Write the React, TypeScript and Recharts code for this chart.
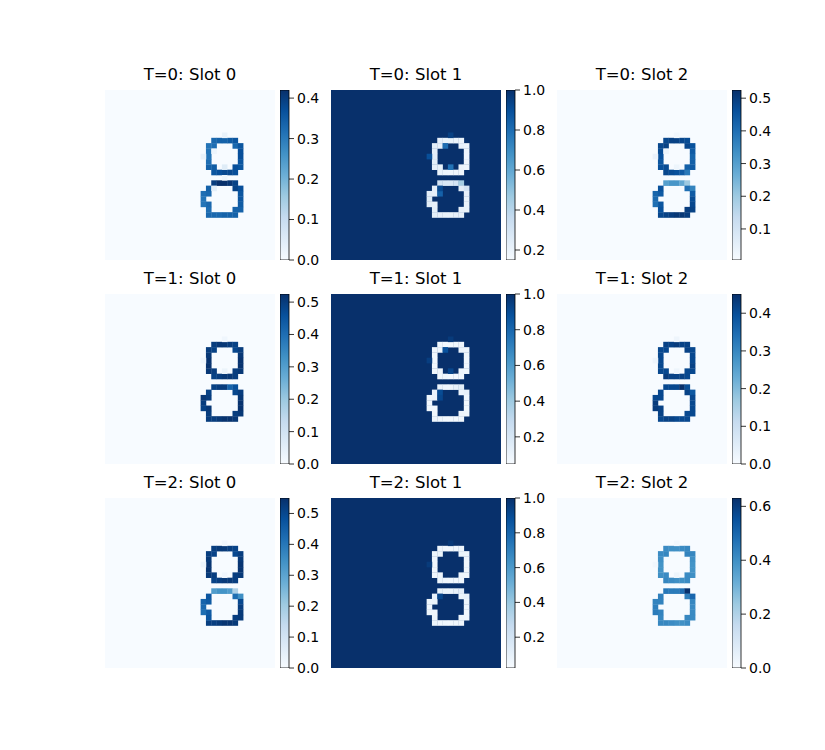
import React from "react";
import { ScatterChart, Scatter, XAxis, YAxis, ReferenceArea, BarChart, Bar } from "recharts";

const FONT = "'DejaVu Sans', sans-serif";
const BLUES = ["#f7fbff", "#deebf7", "#c6dbef", "#9ecae1", "#6baed6", "#4292c6", "#2171b5", "#08519c", "#08306b"];

const GRID_N = 32;
const PANEL = 170;
const CELL = PANEL / GRID_N;
const COL_X = [105, 331, 557];
const ROW_Y = [90, 294, 498];

// grid cells [row, col] of the two outlines
const UPPER_RING: [number, number][] = [
  [9, 20], [9, 21], [9, 22], [9, 23], [9, 24],
  [10, 24], [10, 25], [11, 25], [12, 25], [13, 25], [14, 25], [14, 24],
  [15, 24], [15, 23], [15, 22], [15, 21], [15, 20],
  [14, 20], [14, 19], [13, 19], [12, 19], [11, 19], [10, 19], [10, 20],
];
const LOWER_RING: [number, number][] = [
  [17, 20], [17, 21], [17, 22], [17, 23], [17, 24],
  [18, 24], [18, 25], [19, 25], [20, 25], [21, 25], [22, 25], [22, 24],
  [23, 24], [23, 23], [23, 22], [23, 21], [23, 20], [23, 19],
  [22, 19], [21, 19], [21, 18], [20, 18], [19, 18], [19, 19], [18, 19],
];

const TITLES = [
  "T=0: Slot 0", "T=0: Slot 1", "T=0: Slot 2",
  "T=1: Slot 0", "T=1: Slot 1", "T=1: Slot 2",
  "T=2: Slot 0", "T=2: Slot 1", "T=2: Slot 2",
];
const VMIN = [0, 0.15, 0.005, 0, 0.048, 0, 0, 0.023, 0];
const VMAX = [0.42, 1.0, 0.525, 0.525, 1.0, 0.451, 0.55, 1.0, 0.631];
const BG = [0, 1.0, 0.005, 0, 1.0, 0, 0, 1.0, 0];
const TICKS = [
  [0, 0.1, 0.2, 0.3, 0.4], [0.2, 0.4, 0.6, 0.8, 1.0], [0.1, 0.2, 0.3, 0.4, 0.5],
  [0, 0.1, 0.2, 0.3, 0.4, 0.5], [0.2, 0.4, 0.6, 0.8, 1.0], [0, 0.1, 0.2, 0.3, 0.4],
  [0, 0.1, 0.2, 0.3, 0.4, 0.5], [0.2, 0.4, 0.6, 0.8, 1.0], [0, 0.2, 0.4, 0.6],
];

const t0s0Upper = [0.33, 0.34, 0.34, 0.35, 0.36, 0.33, 0.36, 0.37, 0.37, 0.36, 0.36, 0.37, 0.37, 0.38, 0.38, 0.37, 0.36, 0.35, 0.34, 0.32, 0.31, 0.31, 0.31, 0.32];
const t0s0Lower = [0.40, 0.42, 0.42, 0.41, 0.39, 0.39, 0.37, 0.36, 0.36, 0.35, 0.34, 0.34, 0.34, 0.34, 0.34, 0.33, 0.33, 0.33, 0.32, 0.33, 0.31, 0.31, 0.32, 0.33, 0.34];
const t0s0Extra = [[8, 22, 0.03], [12, 18, 0.03], [14, 22, 0.05], [11, 20, 0.02], [18, 20, 0.04], [16, 22, 0.02]];

const t0s1Upper = [0.22, 0.21, 0.21, 0.20, 0.20, 0.22, 0.20, 0.19, 0.18, 0.18, 0.19, 0.20, 0.18, 0.18, 0.18, 0.19, 0.20, 0.21, 0.22, 0.23, 0.24, 0.24, 0.24, 0.22];
const t0s1Lower = [0.30, 0.28, 0.28, 0.30, 0.45, 0.24, 0.30, 0.22, 0.20, 0.20, 0.21, 0.22, 0.22, 0.22, 0.21, 0.21, 0.22, 0.23, 0.23, 0.22, 0.24, 0.25, 0.24, 0.22, 0.22];
const t0s1Extra = [[8, 22, 0.95], [12, 18, 0.9], [10, 21, 0.8], [14, 22, 0.78], [19, 20, 0.84], [18, 20, 0.92]];

const t0s2Upper = [0.48, 0.49, 0.49, 0.48, 0.47, 0.48, 0.46, 0.44, 0.42, 0.43, 0.44, 0.43, 0.38, 0.44, 0.46, 0.47, 0.48, 0.47, 0.46, 0.45, 0.46, 0.47, 0.48, 0.49];
const t0s2Lower = [0.30, 0.32, 0.32, 0.28, 0.20, 0.40, 0.36, 0.44, 0.47, 0.48, 0.49, 0.50, 0.50, 0.51, 0.51, 0.50, 0.49, 0.48, 0.46, 0.45, 0.40, 0.41, 0.42, 0.44, 0.46];
const t0s2Extra = [[8, 22, 0.02], [12, 18, 0.04], [11, 20, 0.03], [14, 22, 0.03]];

const t1s0Upper = [0.50, 0.51, 0.51, 0.50, 0.49, 0.48, 0.50, 0.51, 0.52, 0.52, 0.51, 0.50, 0.50, 0.51, 0.51, 0.50, 0.49, 0.50, 0.51, 0.52, 0.52, 0.51, 0.50, 0.49];
const t1s0Lower = [0.49, 0.50, 0.50, 0.42, 0.46, 0.48, 0.50, 0.51, 0.52, 0.52, 0.51, 0.50, 0.51, 0.52, 0.52, 0.51, 0.50, 0.50, 0.50, 0.51, 0.49, 0.50, 0.51, 0.50, 0.49];
const t1s0Extra = [[8, 22, 0.02], [12, 18, 0.02], [14, 22, 0.03]];

const t1s1Upper = [0.08, 0.07, 0.07, 0.08, 0.09, 0.10, 0.09, 0.08, 0.07, 0.07, 0.08, 0.09, 0.08, 0.07, 0.07, 0.08, 0.08, 0.09, 0.08, 0.07, 0.07, 0.08, 0.09, 0.10];
const t1s1Lower = [0.10, 0.09, 0.09, 0.12, 0.14, 0.10, 0.12, 0.08, 0.07, 0.07, 0.08, 0.09, 0.08, 0.07, 0.07, 0.07, 0.08, 0.09, 0.08, 0.07, 0.08, 0.07, 0.08, 0.09, 0.10];
const t1s1Extra = [[8, 22, 0.96], [12, 18, 0.95], [10, 21, 0.88], [14, 22, 0.92], [18, 20, 0.9], [19, 20, 0.92]];

const t1s2Upper = [0.42, 0.42, 0.43, 0.42, 0.42, 0.42, 0.41, 0.41, 0.41, 0.42, 0.41, 0.41, 0.41, 0.42, 0.42, 0.42, 0.43, 0.41, 0.41, 0.41, 0.41, 0.41, 0.41, 0.41];
const t1s2Lower = [0.41, 0.41, 0.41, 0.45, 0.40, 0.42, 0.38, 0.41, 0.41, 0.41, 0.41, 0.41, 0.41, 0.41, 0.41, 0.42, 0.42, 0.41, 0.42, 0.42, 0.43, 0.43, 0.41, 0.41, 0.41];
const t1s2Extra = [[8, 22, 0.02], [12, 18, 0.02], [14, 22, 0.02]];

const t2s0Upper = [0.52, 0.53, 0.53, 0.52, 0.51, 0.50, 0.52, 0.53, 0.54, 0.54, 0.53, 0.52, 0.52, 0.53, 0.53, 0.52, 0.51, 0.52, 0.53, 0.54, 0.54, 0.53, 0.52, 0.51];
const t2s0Lower = [0.32, 0.34, 0.34, 0.32, 0.18, 0.42, 0.35, 0.50, 0.52, 0.53, 0.53, 0.52, 0.53, 0.54, 0.54, 0.53, 0.52, 0.52, 0.47, 0.46, 0.42, 0.43, 0.44, 0.46, 0.47];
const t2s0Extra = [[8, 22, 0.02], [12, 18, 0.03], [14, 22, 0.02]];

const t2s1Upper = [0.06, 0.05, 0.05, 0.06, 0.07, 0.08, 0.07, 0.06, 0.05, 0.05, 0.06, 0.07, 0.06, 0.05, 0.05, 0.06, 0.07, 0.07, 0.06, 0.05, 0.05, 0.06, 0.07, 0.08];
const t2s1Lower = [0.08, 0.07, 0.07, 0.09, 0.12, 0.08, 0.10, 0.07, 0.06, 0.05, 0.06, 0.07, 0.06, 0.05, 0.05, 0.06, 0.06, 0.07, 0.07, 0.06, 0.07, 0.06, 0.07, 0.08, 0.09];
const t2s1Extra = [[8, 22, 0.97], [12, 18, 0.96], [18, 20, 0.92]];

const t2s2Upper = [0.41, 0.40, 0.40, 0.41, 0.42, 0.43, 0.42, 0.40, 0.39, 0.39, 0.40, 0.41, 0.41, 0.40, 0.40, 0.41, 0.42, 0.41, 0.40, 0.39, 0.39, 0.40, 0.41, 0.42];
const t2s2Lower = [0.46, 0.45, 0.45, 0.48, 0.63, 0.44, 0.50, 0.42, 0.41, 0.41, 0.41, 0.42, 0.41, 0.40, 0.40, 0.41, 0.42, 0.42, 0.42, 0.43, 0.45, 0.44, 0.43, 0.43, 0.44];
const t2s2Extra = [[8, 22, 0.02], [12, 18, 0.02], [14, 22, 0.03]];

const UPPERS = [t0s0Upper, t0s1Upper, t0s2Upper, t1s0Upper, t1s1Upper, t1s2Upper, t2s0Upper, t2s1Upper, t2s2Upper];
const LOWERS = [t0s0Lower, t0s1Lower, t0s2Lower, t1s0Lower, t1s1Lower, t1s2Lower, t2s0Lower, t2s1Lower, t2s2Lower];
const EXTRAS = [t0s0Extra, t0s1Extra, t0s2Extra, t1s0Extra, t1s1Extra, t1s2Extra, t2s0Extra, t2s1Extra, t2s2Extra];

const hexRgb = (h: string) => [1, 3, 5].map((i) => parseInt(h.slice(i, i + 2), 16));

function blues(t: number) {
  const c = Math.max(0, Math.min(1, t)) * (BLUES.length - 1);
  const i = Math.min(Math.floor(c), BLUES.length - 2);
  const f = c - i;
  const a = hexRgb(BLUES[i]);
  const b = hexRgb(BLUES[i + 1]);
  return `rgb(${a.map((x, k) => Math.round(x + (b[k] - x) * f)).join(",")})`;
}

function Heatmap({ idx }: { idx: number }) {
  const vmin = VMIN[idx];
  const vmax = VMAX[idx];
  const norm = (v: number) => (v - vmin) / (vmax - vmin);
  const cells = [
    ...UPPER_RING.map(([r, c], k) => ({ x: c + 0.5, y: r + 0.5, v: UPPERS[idx][k] })),
    ...LOWER_RING.map(([r, c], k) => ({ x: c + 0.5, y: r + 0.5, v: LOWERS[idx][k] })),
    ...EXTRAS[idx].map(([r, c, v]) => ({ x: c + 0.5, y: r + 0.5, v })),
  ];
  return (
    <ScatterChart width={PANEL} height={PANEL} margin={{ top: 0, right: 0, bottom: 0, left: 0 }}>
      <XAxis type="number" dataKey="x" domain={[0, GRID_N]} allowDataOverflow hide />
      <YAxis type="number" dataKey="y" domain={[0, GRID_N]} allowDataOverflow reversed hide />
      <ReferenceArea x1={0} x2={GRID_N} y1={0} y2={GRID_N} fill={blues(norm(BG[idx]))} fillOpacity={1} stroke="none" />
      <Scatter
        data={cells}
        isAnimationActive={false}
        shape={(p: any) => (
          <rect x={p.cx - CELL / 2} y={p.cy - CELL / 2} width={CELL + 0.3} height={CELL + 0.3} fill={blues(norm(p.payload.v))} />
        )}
      />
    </ScatterChart>
  );
}

function Colorbar({ idx }: { idx: number }) {
  const id = `cbgrad${idx}`;
  return (
    <BarChart
      width={49}
      height={PANEL + 16}
      data={[{ name: "cb", range: [VMIN[idx], VMAX[idx]] }]}
      margin={{ top: 8, right: 0, bottom: 8, left: 0 }}
      barCategoryGap={0}
    >
      <defs>
        <linearGradient id={id} x1="0" y1="1" x2="0" y2="0">
          {BLUES.map((c, i) => (
            <stop key={i} offset={i / (BLUES.length - 1)} stopColor={c} />
          ))}
        </linearGradient>
      </defs>
      <XAxis dataKey="name" hide />
      <YAxis
        orientation="right"
        type="number"
        domain={[VMIN[idx], VMAX[idx]]}
        allowDataOverflow
        ticks={TICKS[idx]}
        interval={0}
        width={40}
        tickSize={5}
        tickMargin={3}
        axisLine={false}
        tickLine={{ stroke: "#000", strokeWidth: 0.8 }}
        tick={{ fill: "#000", fontSize: 14, fontFamily: FONT }}
        tickFormatter={(v: number) => v.toFixed(1)}
      />
      <Bar dataKey="range" fill={`url(#${id})`} stroke="#000" strokeWidth={0.8} isAnimationActive={false} />
    </BarChart>
  );
}

export default function App() {
  return (
    <div style={{ position: "absolute", left: 0, top: 0, width: 825, height: 750, background: "#fff", fontFamily: FONT }}>
      {TITLES.map((title, idx) => {
        const x = COL_X[idx % 3];
        const y = ROW_Y[Math.floor(idx / 3)];
        return (
          <React.Fragment key={idx}>
            <div style={{ position: "absolute", left: x, top: y - 25, width: PANEL, height: 20, lineHeight: "20px", textAlign: "center", fontSize: 16.5, color: "#000" }}>
              {title}
            </div>
            <div style={{ position: "absolute", left: x, top: y }}>
              <Heatmap idx={idx} />
            </div>
            <div style={{ position: "absolute", left: x + 175, top: y - 8 }}>
              <Colorbar idx={idx} />
            </div>
          </React.Fragment>
        );
      })}
    </div>
  );
}
